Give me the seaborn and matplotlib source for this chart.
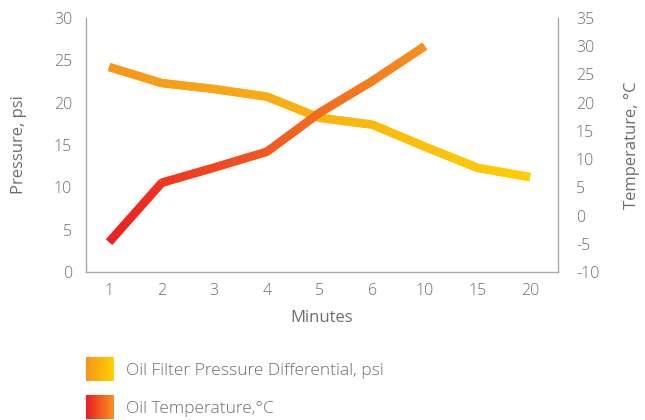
import numpy as np
import pandas as pd
import matplotlib
matplotlib.use("Agg")
import matplotlib.pyplot as plt
import seaborn as sns
from matplotlib.collections import LineCollection
from matplotlib.colors import LinearSegmentedColormap

# Data
minutes = ["1", "2", "3", "4", "5", "6", "10", "15", "20"]
pressure_psi = [24.2, 22.3, 21.6, 20.7, 18.2, 17.4, 14.8, 12.3, 11.2]
temperature_c = [-4.7, 5.8, 8.5, 11.3, 18.2, 23.8, 30.0]

pressure_label = "Oil Filter Pressure Differential, psi"
temperature_label = "Oil Temperature,\u00b0C"

sns.set_theme(style="white")
plt.rcParams["font.family"] = ["Open Sans", "DejaVu Sans"]
plt.rcParams["font.weight"] = "light"
plt.rcParams["axes.unicode_minus"] = False

text_color = "#6d6e71"
spine_color = "#a7a9ac"

pressure_cmap = LinearSegmentedColormap.from_list("press", ["#f7941d", "#ffd200"])
temp_cmap = LinearSegmentedColormap.from_list("temp", ["#ed1c24", "#f7941d"])

fig = plt.figure(figsize=(6.45, 4.2), dpi=100)
ax = fig.add_axes([0.1333, 0.3524, 0.7317, 0.605])
ax2 = ax.twinx()

pos = np.arange(len(minutes))
df_p = pd.DataFrame({"pos": pos, "val": pressure_psi})
df_t = pd.DataFrame({"pos": pos[:len(temperature_c)], "val": temperature_c})

lw = 6.0
sns.lineplot(data=df_p, x="pos", y="val", ax=ax, color="#fbb313", linewidth=lw,
             solid_capstyle="butt", solid_joinstyle="miter", zorder=2)
sns.lineplot(data=df_t, x="pos", y="val", ax=ax2, color="#f26a21", linewidth=lw,
             solid_capstyle="butt", solid_joinstyle="miter", zorder=3)


def gradient_overlay(axis, xs, ys, cmap, z):
    """Overlay a left-to-right colour gradient on a polyline."""
    xs = np.asarray(xs, float)
    ys = np.asarray(ys, float)
    segs, cols = [], []
    x0, x1 = xs[0], xs[-1]
    for i in range(len(xs) - 1):
        t = np.linspace(0, 1, 25)
        sx = xs[i] + (xs[i + 1] - xs[i]) * t
        sy = ys[i] + (ys[i + 1] - ys[i]) * t
        for j in range(len(t) - 1):
            segs.append([(sx[j], sy[j]), (sx[j + 1], sy[j + 1])])
            cols.append(cmap(((sx[j] + sx[j + 1]) / 2 - x0) / (x1 - x0)))
    lc = LineCollection(segs, colors=cols, linewidths=lw, capstyle="butt", zorder=z)
    axis.add_collection(lc)


gradient_overlay(ax, df_p["pos"], df_p["val"], pressure_cmap, 2.5)
gradient_overlay(ax2, df_t["pos"], df_t["val"], temp_cmap, 3.5)

# Axes ranges and ticks
ax.set_xlim(-0.44, 8.53)
ax.set_ylim(0, 30)
ax.set_yticks(np.arange(0, 31, 5))
ax2.set_ylim(-10, 35)
ax2.set_yticks(np.arange(-10, 36, 5))
ax.set_xticks(pos)
ax.set_xticklabels(minutes)

for a in (ax, ax2):
    a.set_facecolor("none")
    for s in a.spines.values():
        s.set_visible(False)
    a.tick_params(length=0, labelsize=11.5, labelcolor=text_color)
ax.spines["left"].set_visible(True)
ax.spines["bottom"].set_visible(True)
ax2.spines["right"].set_visible(True)
for s in (ax.spines["left"], ax.spines["bottom"], ax2.spines["right"]):
    s.set_color(spine_color)
    s.set_linewidth(1.0)

ax.tick_params(axis="y", pad=10)
ax.tick_params(axis="x", pad=8)
ax2.tick_params(axis="y", pad=13)

ax.set_xlabel("Minutes", fontsize=12, color=text_color, labelpad=8)
ax.set_ylabel("Pressure, psi", fontsize=12, color=text_color, labelpad=19)
ax2.set_ylabel("Temperature, \u00b0C", fontsize=12, color=text_color, labelpad=18)

# Legend with gradient swatches
grad = np.linspace(0, 1, 64).reshape(1, -1)
W, H = 645.0, 420.0
entries = [(pressure_cmap, pressure_label, 357), (temp_cmap, temperature_label, 395)]
for cmap, label, top in entries:
    sw = fig.add_axes([86 / W, 1 - (top + 24) / H, 27 / W, 24 / H])
    sw.imshow(grad, cmap=cmap, aspect="auto")
    sw.set_axis_off()
    fig.text(126 / W, 1 - (top + 14) / H, label, fontsize=12.5, color=text_color,
             va="center", ha="left")

fig.savefig("out.png", dpi=100)
